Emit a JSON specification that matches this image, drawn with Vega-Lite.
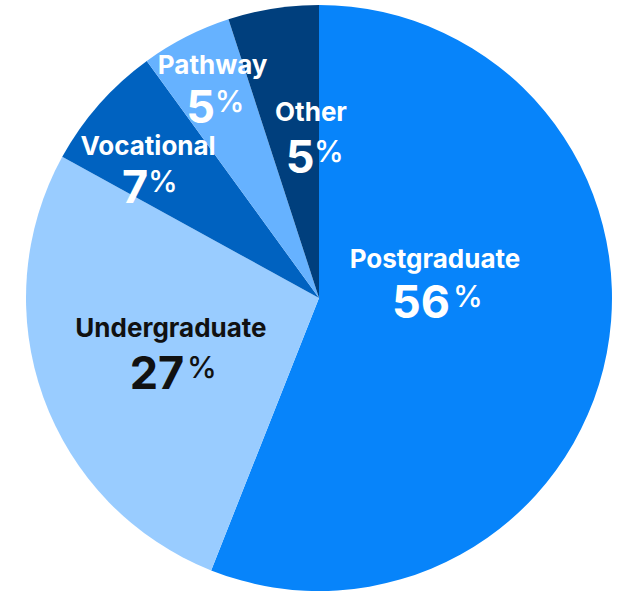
{
  "$schema": "https://vega.github.io/schema/vega-lite/v6.json",
  "autosize": {"type": "fit", "contains": "padding"},
  "width": 625,
  "height": 591,
  "padding": {"left": 13, "top": 5, "right": 0, "bottom": 0},
  "background": "white",
  "view": {"stroke": null},
  "data": {
    "values": [
      {"category": "Postgraduate", "value": 56, "order": 1},
      {"category": "Undergraduate", "value": 27, "order": 2},
      {"category": "Vocational", "value": 7, "order": 3},
      {"category": "Pathway", "value": 5, "order": 4},
      {"category": "Other", "value": 5, "order": 5}
    ]
  },
  "encoding": {
    "theta": {"field": "value", "type": "quantitative", "stack": true},
    "order": {"field": "order", "type": "quantitative", "sort": "ascending"},
    "detail": {"field": "category", "type": "nominal"}
  },
  "layer": [
    {
      "mark": {"type": "arc"},
      "encoding": {
        "color": {
          "field": "category",
          "type": "nominal",
          "legend": null,
          "scale": {
            "domain": ["Postgraduate", "Undergraduate", "Vocational", "Pathway", "Other"],
            "range": ["#0784FA", "#99CCFF", "#0062C0", "#66B2FF", "#003F7D"]
          }
        }
      }
    },
    {
      "mark": {"type": "text", "font": "Inter", "fontSize": 26, "fontWeight": "bold", "color": "white", "radius": 119.8, "thetaOffset": -0.4416, "align": "center", "baseline": "alphabetic"},
      "encoding": {"text": {"field": "category", "type": "nominal", "condition": {"test": "datum.category !== 'Postgraduate'", "value": ""}}}
    },
    {
      "mark": {"type": "text", "font": "Inter", "fontSize": 45, "fontWeight": "bold", "color": "white", "radius": 119.8, "thetaOffset": -0.4416, "align": "center", "baseline": "alphabetic", "dx": -14, "dy": 50},
      "encoding": {"text": {"field": "value", "type": "quantitative", "format": "d", "condition": {"test": "datum.category !== 'Postgraduate'", "value": ""}}}
    },
    {
      "mark": {"type": "text", "font": "Inter", "fontSize": 30, "fontWeight": 500, "color": "white", "radius": 119.8, "thetaOffset": -0.4416, "align": "left", "baseline": "alphabetic", "dx": 18, "dy": 39},
      "encoding": {"text": {"condition": {"test": "datum.category === 'Postgraduate'", "value": "%"}, "value": ""}}
    },
    {
      "mark": {"type": "text", "font": "Inter", "fontSize": 26, "fontWeight": "bold", "color": "#111111", "radius": 153.1, "thetaOffset": 0.088, "align": "center", "baseline": "alphabetic"},
      "encoding": {"text": {"field": "category", "type": "nominal", "condition": {"test": "datum.category !== 'Undergraduate'", "value": ""}}}
    },
    {
      "mark": {"type": "text", "font": "Inter", "fontSize": 45, "fontWeight": "bold", "color": "#111111", "radius": 153.1, "thetaOffset": 0.088, "align": "center", "baseline": "alphabetic", "dx": -14, "dy": 52},
      "encoding": {"text": {"field": "value", "type": "quantitative", "format": "d", "condition": {"test": "datum.category !== 'Undergraduate'", "value": ""}}}
    },
    {
      "mark": {"type": "text", "font": "Inter", "fontSize": 30, "fontWeight": 500, "color": "#111111", "radius": 153.1, "thetaOffset": 0.088, "align": "left", "baseline": "alphabetic", "dx": 16, "dy": 41},
      "encoding": {"text": {"condition": {"test": "datum.category === 'Undergraduate'", "value": "%"}, "value": ""}}
    },
    {
      "mark": {"type": "text", "font": "Inter", "fontSize": 26, "fontWeight": "bold", "color": "white", "radius": 222.9, "thetaOffset": -0.026, "align": "center", "baseline": "alphabetic"},
      "encoding": {"text": {"field": "category", "type": "nominal", "condition": {"test": "datum.category !== 'Vocational'", "value": ""}}}
    },
    {
      "mark": {"type": "text", "font": "Inter", "fontSize": 45, "fontWeight": "bold", "color": "white", "radius": 222.9, "thetaOffset": -0.026, "align": "center", "baseline": "alphabetic", "dx": -13, "dy": 48},
      "encoding": {"text": {"field": "value", "type": "quantitative", "format": "d", "condition": {"test": "datum.category !== 'Vocational'", "value": ""}}}
    },
    {
      "mark": {"type": "text", "font": "Inter", "fontSize": 30, "fontWeight": 500, "color": "white", "radius": 222.9, "thetaOffset": -0.026, "align": "left", "baseline": "alphabetic", "dx": 0, "dy": 37},
      "encoding": {"text": {"condition": {"test": "datum.category === 'Vocational'", "value": "%"}, "value": ""}}
    },
    {
      "mark": {"type": "text", "font": "Inter", "fontSize": 26, "fontWeight": "bold", "color": "white", "radius": 248, "thetaOffset": 0.028, "align": "center", "baseline": "alphabetic"},
      "encoding": {"text": {"field": "category", "type": "nominal", "condition": {"test": "datum.category !== 'Pathway'", "value": ""}}}
    },
    {
      "mark": {"type": "text", "font": "Inter", "fontSize": 45, "fontWeight": "bold", "color": "white", "radius": 248, "thetaOffset": 0.028, "align": "center", "baseline": "alphabetic", "dx": -12, "dy": 49},
      "encoding": {"text": {"field": "value", "type": "quantitative", "format": "d", "condition": {"test": "datum.category !== 'Pathway'", "value": ""}}}
    },
    {
      "mark": {"type": "text", "font": "Inter", "fontSize": 30, "fontWeight": 500, "color": "white", "radius": 248, "thetaOffset": 0.028, "align": "left", "baseline": "alphabetic", "dx": 2, "dy": 38},
      "encoding": {"text": {"condition": {"test": "datum.category === 'Pathway'", "value": "%"}, "value": ""}}
    },
    {
      "mark": {"type": "text", "font": "Inter", "fontSize": 26, "fontWeight": "bold", "color": "white", "radius": 177.2, "thetaOffset": 0.112, "align": "center", "baseline": "alphabetic"},
      "encoding": {"text": {"field": "category", "type": "nominal", "condition": {"test": "datum.category !== 'Other'", "value": ""}}}
    },
    {
      "mark": {"type": "text", "font": "Inter", "fontSize": 45, "fontWeight": "bold", "color": "white", "radius": 177.2, "thetaOffset": 0.112, "align": "center", "baseline": "alphabetic", "dx": -11, "dy": 52},
      "encoding": {"text": {"field": "value", "type": "quantitative", "format": "d", "condition": {"test": "datum.category !== 'Other'", "value": ""}}}
    },
    {
      "mark": {"type": "text", "font": "Inter", "fontSize": 30, "fontWeight": 500, "color": "white", "radius": 177.2, "thetaOffset": 0.112, "align": "left", "baseline": "alphabetic", "dx": 3, "dy": 41},
      "encoding": {"text": {"condition": {"test": "datum.category === 'Other'", "value": "%"}, "value": ""}}
    }
  ]
}
